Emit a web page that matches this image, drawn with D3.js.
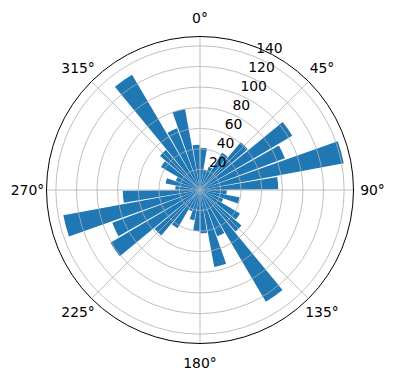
<!DOCTYPE html>
<html>
<head>
<meta charset="utf-8">
<script src="https://cdn.jsdelivr.net/npm/d3@7"></script>
<style>
  body { margin: 0; background: #fff; }
  text { font-family: "DejaVu Sans", sans-serif; font-size: 13.9px; fill: #000; }
</style>
</head>
<body>
<div class="chart"></div>
<script>
// bin centres (degrees, clockwise from north) and bar heights
var binCenters = [5, 15, 25, 35, 45, 55, 65, 75, 85, 95, 105, 115, 125, 135, 145, 155, 165, 175,
                  185, 195, 205, 215, 225, 235, 245, 255, 265, 275, 285, 295, 305, 315, 325, 335, 345, 355];
var counts = [41, 20, 24, 42, 61, 104, 88, 142, 76, 26, 39, 24, 45, 53, 126, 48, 76, 42,
              40, 30, 22, 43, 58, 101, 91, 135, 75, 24, 34, 25, 44, 51, 130, 64, 80, 44];
var rTicks = [20, 40, 60, 80, 100, 120, 140];
var thetaTicks = [0, 45, 90, 135, 180, 225, 270, 315];

var svgWidth = 396, svgHeight = 380;
var cx = 200, cy = 190, radius = 153.5;
var binWidth = 9; // degrees

var svg = d3.select(".chart")
  .append("svg")
  .attr("width", svgWidth)
  .attr("height", svgHeight);

var chartGroup = svg.append("g")
  .attr("transform", `translate(${cx}, ${cy})`);

// radial scale, matplotlib style 5% margin above the tallest bar
var rScale = d3.scaleLinear()
  .domain([0, d3.max(counts) * 1.05])
  .range([0, radius]);

var angleScale = d3.scaleLinear()
  .domain([0, 360])
  .range([0, 2 * Math.PI]);

// white background of the axes
chartGroup.append("circle")
  .attr("r", radius)
  .attr("fill", "#fff");

// bars
var arc = d3.arc()
  .innerRadius(0)
  .outerRadius(d => rScale(d.v))
  .startAngle(d => angleScale(d.a - binWidth / 2))
  .endAngle(d => angleScale(d.a + binWidth / 2));

chartGroup.selectAll("path.bar")
  .data(binCenters.map((a, i) => ({ a: a, v: counts[i] })))
  .enter()
  .append("path")
  .attr("class", "bar")
  .attr("d", arc)
  .attr("fill", "#1f77b4");

// grid rings (drawn over the bars like matplotlib)
chartGroup.selectAll("circle.ring")
  .data(rTicks)
  .enter()
  .append("circle")
  .attr("class", "ring")
  .attr("r", d => rScale(d))
  .attr("fill", "none")
  .attr("stroke", "#b0b0b0")
  .attr("stroke-width", 0.8);

// spokes
chartGroup.selectAll("line.spoke")
  .data(thetaTicks)
  .enter()
  .append("line")
  .attr("class", "spoke")
  .attr("x1", 0)
  .attr("y1", 0)
  .attr("x2", d => radius * Math.sin(angleScale(d)))
  .attr("y2", d => -radius * Math.cos(angleScale(d)))
  .attr("stroke", "#b0b0b0")
  .attr("stroke-width", 0.8);

// outer frame
chartGroup.append("circle")
  .attr("r", radius)
  .attr("fill", "none")
  .attr("stroke", "#000")
  .attr("stroke-width", 1);

// angle labels
var labelR = radius + 19;
chartGroup.selectAll("text.theta")
  .data(thetaTicks)
  .enter()
  .append("text")
  .attr("class", "theta")
  .attr("x", d => labelR * Math.sin(angleScale(d)))
  .attr("y", d => -labelR * Math.cos(angleScale(d)))
  .attr("text-anchor", "middle")
  .attr("dominant-baseline", "central")
  .text(d => d + "°");

// radial labels along 22.5 degrees
var rlabelAngle = angleScale(22.5);
chartGroup.selectAll("text.rlabel")
  .data(rTicks)
  .enter()
  .append("text")
  .attr("class", "rlabel")
  .attr("x", d => rScale(d) * Math.sin(rlabelAngle) + 1)
  .attr("y", d => -rScale(d) * Math.cos(rlabelAngle) - 4)
  .attr("text-anchor", "start")
  .text(d => d);
</script>
</body>
</html>
